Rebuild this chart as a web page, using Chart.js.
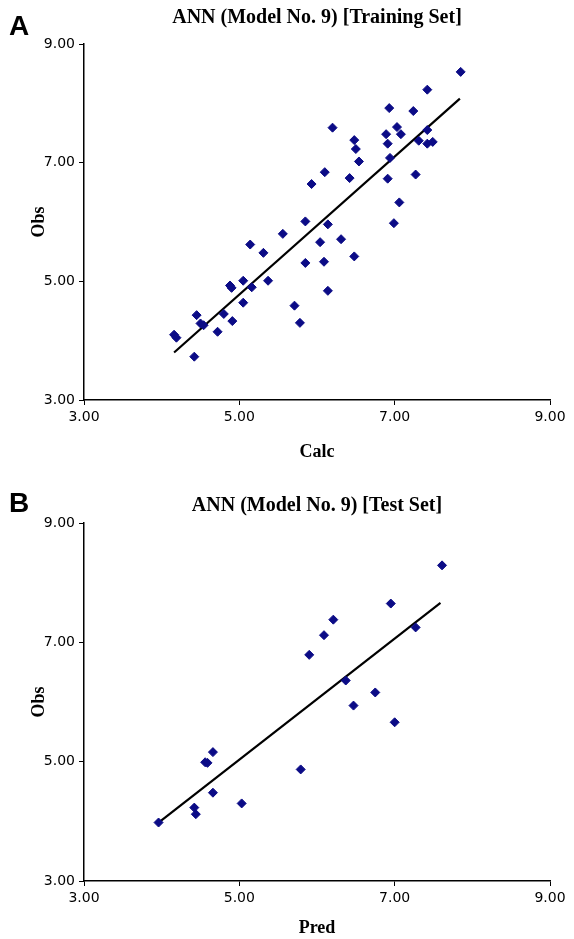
<!DOCTYPE html>
<html>
<head>
<meta charset="utf-8">
<script src="https://cdn.jsdelivr.net/npm/chart.js@4/dist/chart.umd.min.js"></script>
<style>
  body { margin: 0; background: #fff; }
  .panel { position: absolute; left: 0; width: 574px; }
</style>
</head>
<body>
<div class="panel" style="top:0;height:479px"><canvas id="chartA"></canvas></div>
<div class="panel" style="top:479px;height:460px"><canvas id="chartB"></canvas></div>
<script>
// training set (panel A)
const trainCalc = [7.85, 7.42, 6.93, 7.24, 6.20, 7.03, 7.08, 6.89, 7.42, 6.48, 6.91, 7.31, 7.42, 7.49, 6.50, 6.94, 6.54, 6.10, 5.93, 6.42, 6.91, 7.27, 7.06, 5.85, 6.14, 6.99, 6.04, 6.31, 5.85, 6.09, 6.48, 6.14, 5.78, 5.56, 5.14, 5.31, 5.05, 4.88, 4.90, 5.16, 5.37, 5.05, 4.45, 4.80, 4.50, 4.54, 4.91, 4.72, 4.16, 4.19, 4.42, 5.71]
const trainObs = [8.53, 8.23, 7.92, 7.87, 7.59, 7.60, 7.48, 7.48, 7.55, 7.38, 7.32, 7.37, 7.32, 7.35, 7.23, 7.08, 7.02, 6.84, 6.64, 6.74, 6.73, 6.80, 6.33, 6.01, 5.96, 5.98, 5.66, 5.71, 5.31, 5.33, 5.42, 4.84, 4.30, 5.80, 5.62, 5.48, 5.01, 4.93, 4.89, 4.90, 5.01, 4.64, 4.43, 4.45, 4.29, 4.26, 4.33, 4.15, 4.10, 4.05, 3.73, 4.59]
const trainFitX = [4.16, 7.84]
const trainFitY = [3.80, 8.08]

// test set (panel B)
const testPred = [7.61, 6.95, 6.21, 6.09, 5.90, 7.27, 6.37, 6.75, 6.47, 7.00, 5.79, 4.66, 4.56, 4.59, 4.66, 5.03, 4.42, 4.44, 3.96]
const testObs = [8.29, 7.65, 7.38, 7.12, 6.79, 7.25, 6.36, 6.16, 5.94, 5.66, 4.87, 5.16, 4.99, 4.98, 4.48, 4.30, 4.23, 4.12, 3.98]
const testFitX = [3.96, 7.59]
const testFitY = [3.98, 7.66]

const tickValues = [3, 5, 7, 9]

const pts = (xs, ys) => xs.map((x, i) => ({x, y: ys[i]}))

// title and panel letter, centred over the plot area
const panelText = {
  id: 'panelText',
  afterDraw(chart, args, o) {
    const {ctx, chartArea} = chart
    ctx.save()
    ctx.fillStyle = '#000'
    ctx.textBaseline = 'middle'
    ctx.textAlign = 'center'
    ctx.font = 'bold 20px "Liberation Serif", serif'
    ctx.fillText(o.title, (chartArea.left + chartArea.right) / 2, o.titleY)
    ctx.textAlign = 'left'
    ctx.textBaseline = 'alphabetic'
    ctx.font = 'bold 28px "Liberation Sans", Arial, sans-serif'
    ctx.fillText(o.letter, 9, o.letterY)
    ctx.restore()
  }
}

function axis(title, titlePad, fit) {
  return {
    type: 'linear',
    min: 3,
    max: 9,
    afterBuildTicks: s => { s.ticks = tickValues.map(v => ({value: v})) },
    afterFit: fit,
    grid: {drawOnChartArea: false, drawTicks: true, tickLength: 5, color: '#000', lineWidth: 1},
    border: {display: true, color: '#000', width: 1.5},
    ticks: {
      color: '#000',
      padding: 4,
      font: {family: '"DejaVu Sans", Verdana, sans-serif', size: 14},
      callback: v => Number(v).toFixed(2)
    },
    title: {
      display: true,
      text: title,
      color: '#000',
      padding: titlePad,
      font: {family: '"Liberation Serif", serif', size: 18, weight: 'bold'}
    }
  }
}

function makeChart(id, cfg) {
  return new Chart(document.getElementById(id), {
    type: 'scatter',
    data: {
      datasets: [
        {
          data: pts(cfg.xs, cfg.ys),
          pointStyle: 'rectRot',
          pointRadius: 4.5,
          backgroundColor: '#0b0b86',
          borderColor: '#0b0b86',
          borderWidth: 1
        },
        {
          type: 'line',
          data: pts(cfg.fitX, cfg.fitY),
          borderColor: '#000',
          borderWidth: 2.2,
          pointRadius: 0,
          fill: false
        }
      ]
    },
    options: {
      responsive: true,
      maintainAspectRatio: false,
      animation: false,
      layout: {padding: {top: 44, right: 24, left: 0, bottom: 0}},
      plugins: {
        legend: {display: false},
        tooltip: {enabled: false},
        panelText: {title: cfg.title, titleY: cfg.titleY, letter: cfg.letter, letterY: cfg.letterY}
      },
      scales: {
        x: axis(cfg.xTitle, {top: 0, bottom: cfg.xTitlePad}, s => { s.height = cfg.xHeight }),
        y: axis('Obs', {top: 29, bottom: 0}, s => { s.width = 84 })
      }
    },
    plugins: [panelText]
  })
}

makeChart('chartA', {
  xs: trainCalc, ys: trainObs, fitX: trainFitX, fitY: trainFitY,
  title: 'ANN (Model No. 9) [Training Set]', titleY: 18, letter: 'A', letterY: 35,
  xTitle: 'Calc', xTitlePad: 16, xHeight: 79
})

makeChart('chartB', {
  xs: testPred, ys: testObs, fitX: testFitX, fitY: testFitY,
  title: 'ANN (Model No. 9) [Test Set]', titleY: 27, letter: 'B', letterY: 33,
  xTitle: 'Pred', xTitlePad: 0, xHeight: 58
})
</script>
</body>
</html>
